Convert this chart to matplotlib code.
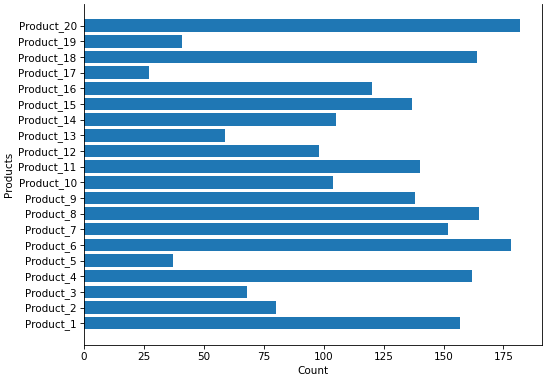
import matplotlib
matplotlib.use("Agg")
import matplotlib.pyplot as plt

products = ["Product_%d" % i for i in range(1, 21)]
counts = [157, 80, 68, 162, 37, 178, 152, 165, 138, 104,
          140, 98, 59, 105, 137, 120, 27, 164, 41, 182]

# original looks like a bigger figure scaled down, so render at low dpi
dpi = 75
fig = plt.figure(figsize=(550 / dpi, 381 / dpi), dpi=dpi)
ax = fig.add_axes([0.1527, 0.0945, 0.8328, 0.8955])
ax.barh(products, counts, color="#1f77b4")
ax.set_xlabel("Count")
ax.set_ylabel("Products")
ax.spines["top"].set_visible(False)

fig.savefig("out.png", dpi=dpi)
